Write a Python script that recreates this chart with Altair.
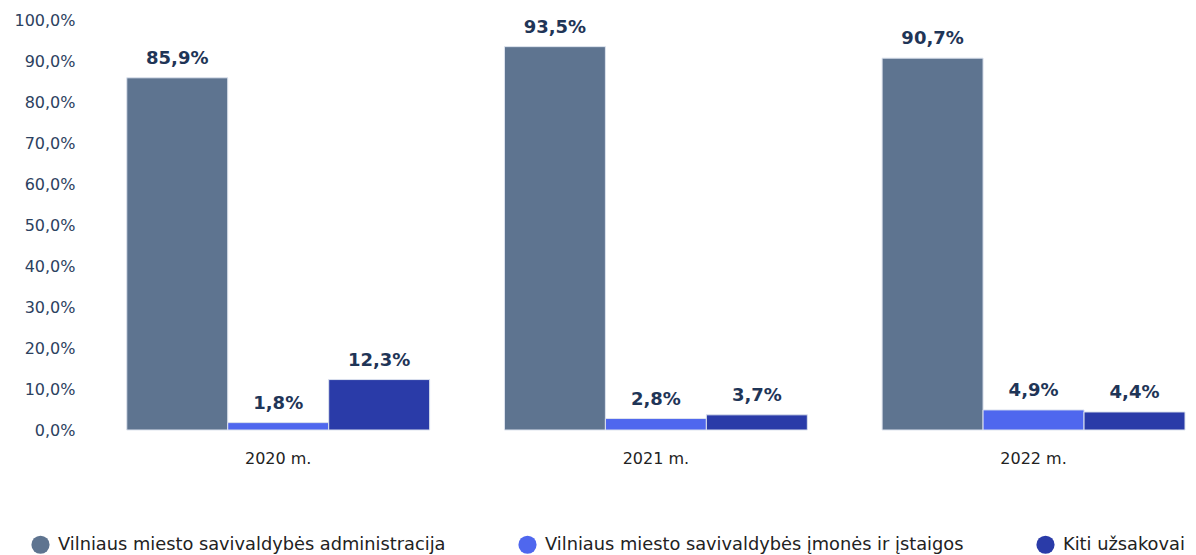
import altair as alt
import pandas as pd

years = ["2020 m.", "2021 m.", "2022 m."]
series = [
    "Vilniaus miesto savivaldybės administracija",
    "Vilniaus miesto savivaldybės įmonės ir įstaigos",
    "Kiti užsakovai",
]
admin = [85.9, 93.5, 90.7]
imones = [1.8, 2.8, 4.9]
kiti = [12.3, 3.7, 4.4]
colors = ["#5e7490", "#4f67ee", "#2a3ba8"]

rows = []
for i, y in enumerate(years):
    for s, vals in zip(series, [admin, imones, kiti]):
        rows.append({"year": y, "series": s, "value": vals[i]})
df = pd.DataFrame(rows)

FONT = "DejaVu Sans"

x = alt.X(
    "year:N",
    sort=years,
    title=None,
    scale=alt.Scale(paddingInner=0.198, paddingOuter=0.05, align=1),
    axis=alt.Axis(
        labelAngle=0, domain=False, ticks=False, labelPadding=20,
        labelFontSize=16, labelColor="#222222", labelFont=FONT,
    ),
)
xo = alt.XOffset("series:N", sort=series, scale=alt.Scale(paddingInner=0, paddingOuter=0))

base = alt.Chart(df).encode(x=x, xOffset=xo)

bars = base.mark_bar(stroke="#dde3ee", strokeWidth=1).encode(
    y=alt.Y(
        "value:Q",
        title=None,
        scale=alt.Scale(domain=[0, 100], nice=False),
        axis=alt.Axis(
            values=list(range(0, 101, 10)), grid=False, domain=False, ticks=False,
            labelPadding=14, labelFontSize=16, labelColor="#2c4160", labelFont=FONT,
            labelExpr="replace(format(datum.value, '.1f'), '.', ',') + '%'",
        ),
    ),
    color=alt.Color(
        "series:N",
        sort=series,
        scale=alt.Scale(domain=series, range=colors),
        legend=alt.Legend(
            title=None, orient="none", direction="horizontal",
            legendX=-58, legendY=515, symbolType="circle", symbolSize=330,
            symbolStrokeWidth=0, labelFontSize=17.8, labelColor="#222222",
            labelFont=FONT, columnPadding=72, labelOffset=8, labelLimit=600,
        ),
    ),
)

labels = base.mark_text(
    baseline="bottom", dy=-10, fontSize=18, fontWeight="bold", color="#1f3557", font=FONT
).transform_calculate(
    label="replace(format(datum.value, '.1f'), '.', ',') + '%'"
).encode(y="value:Q", text="label:N")

chart = (
    alt.layer(bars, labels)
    .properties(width=1096, height=410, padding={"left": 5, "top": 4, "right": 0, "bottom": 0})
    .configure_view(stroke=None)
)

chart.save("out.html", embed_options={"renderer": "svg", "actions": False})
